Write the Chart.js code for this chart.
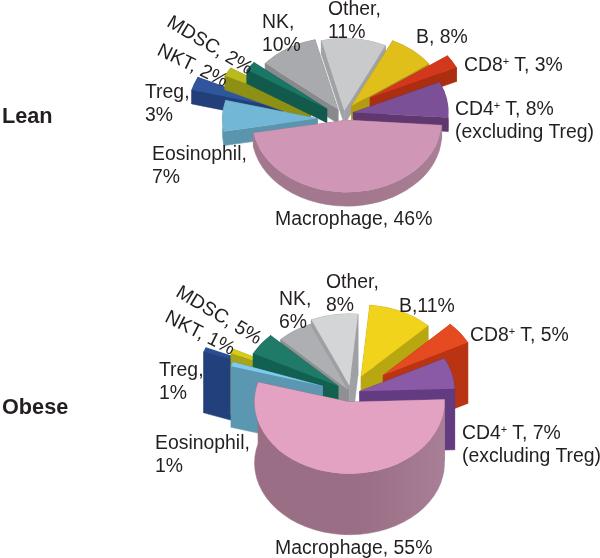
<!DOCTYPE html>
<html><head><meta charset="utf-8">
<style>
html,body{margin:0;padding:0;background:#fff;width:600px;height:558px;overflow:hidden}
canvas{position:absolute;left:0;top:0;pointer-events:none}
.t{position:absolute;font:19.4px/23px "Liberation Sans",Arial,sans-serif;color:#231f20;white-space:pre;transform-origin:0 0}
.h{font:bold 21.7px/24px "Liberation Sans",Arial,sans-serif;color:#231f20}
sup{font-size:11px;line-height:0;vertical-align:6px}
</style></head><body>
<canvas id="lean" width="600" height="558"></canvas>
<canvas id="obese" width="600" height="558"></canvas>
<script src="https://cdn.jsdelivr.net/npm/chart.js@4"></script>
<script>
const categories=["Macrophage","Eosinophil","Treg","NKT","MDSC","NK","Other","B","CD8","CD4"];
const leanValues=[46,7,3,2,2,10,11,8,3,8];
const obeseValues=[55,1,1,1,5,6,8,11,5,7];
const leanTop=["#cf96b5","#72b7d6","#2f559c","#b9bb1c","#1a7765","#a8aaad","#c8cacc","#e0bf1a","#d4381c","#7c5096"];
const leanSide=["#a3778d","#5b95ad","#233f7a","#8e9015","#125a4c","#88898c","#a0a2a5","#b39a12","#ab2e10","#60386f"];
const obeseTop=["#e3a2c1","#7fcbee","#2a4d94","#d4ce17","#1f7a68","#adafb2","#d3d5d7","#f0d31a","#e64a20","#8a5aa6"];
const obeseSide=["#9a6e85","#5c97b2","#22407c","#a9a41a","#126150","#8f9093","#9ea0a3","#b9a711","#b93412","#633b80"];
// explosion distance of each slice
const leanExplode=[7,28,62,36,20,10,6,14,34,9];
const obeseExplode=[12,30,62,36,16,5,10,24,40,9];
const drawOrder=[6,5,7,8,9,2,3,4,1,0];

function pie3d(cx,cy,sy,depth,sideColors,radius,tilt){
  return {id:"pie3d",beforeDatasetDraw(chart,args){
    const ctx=chart.ctx, arcs=args.meta.data;
    const dz=depth/sy;
    drawOrder.forEach(i=>{
      const arc=arcs[i], a=arc.startAngle, b=arc.endAngle;
      const off=(arc.options.offset||0)/4, mid=(a+b)/2-tilt*Math.PI/180;
      let side=sideColors[i];
      ctx.save();
      ctx.translate(cx+Math.cos(mid)*off,cy+Math.sin(mid)*off*sy);
      ctx.scale(1,sy);
      if(i===0){
        const g=ctx.createLinearGradient(-radius,0,radius,0);
        g.addColorStop(0,side);g.addColorStop(.55,side);g.addColorStop(1,"#a87f96");
        side=g;
      }
      ctx.fillStyle=side;ctx.strokeStyle=side;ctx.lineWidth=.6;
      // two flat cut faces
      [a,b].forEach(t=>{
        const x=Math.cos(t)*radius,y=Math.sin(t)*radius;
        ctx.beginPath();ctx.moveTo(0,0);ctx.lineTo(x,y);ctx.lineTo(x,y+dz);ctx.lineTo(0,dz);ctx.closePath();
        ctx.fill();ctx.stroke();
      });
      // curved wall
      ctx.beginPath();ctx.arc(0,0,radius,a,b);ctx.arc(0,dz,radius,b,a,true);ctx.closePath();
      ctx.fill();ctx.stroke();
      // top face
      ctx.beginPath();ctx.moveTo(0,0);ctx.arc(0,0,radius,a,b);ctx.closePath();
      ctx.fillStyle=arc.options.backgroundColor;ctx.fill();
      ctx.restore();
    });
    return false;
  }};
}
function makeChart(id,values,tops,sides,explode,rotation,radius,cx,cy,sy,depth,tilt){
  return new Chart(document.getElementById(id),{
    type:"pie",
    data:{labels:categories,datasets:[{data:values,backgroundColor:tops,borderWidth:0,offset:explode.map(v=>v*4),clip:false}]},
    options:{responsive:false,animation:false,rotation,radius,
      plugins:{legend:{display:false},tooltip:{enabled:false}},
      events:[]},
    plugins:[pie3d(cx,cy,sy,depth,sides,radius,tilt)]
  });
}
makeChart("lean",leanValues,leanTop,leanSide,leanExplode,94,95,345,115,0.758,14,12);
makeChart("obese",obeseValues,obeseTop,obeseSide,obeseExplode,88,95,351,393,0.755,61,0);

const sup=s=>s.replace(/(CD[48])\+/,"$1<sup>+</sup>");
const text=(name,v)=>({CD8:"CD8+ T",CD4:"CD4+ T"}[name]||name)+", "+v+"%";
const leanLabels=[
 {i:0,x:275,y:207},{i:1,x:152,y:142,br:1},{i:2,x:145,y:80,br:1},
 {i:3,x:164,y:38,rot:26},{i:4,x:175,y:10,rot:31},{i:5,x:262,y:10,br:1},
 {i:6,x:328,y:-3,br:1},{i:7,x:416,y:25},{i:8,x:464,y:53},{i:9,x:455,y:97,extra:"(excluding Treg)"}];
const obeseLabels=[
 {i:0,x:275,y:536},{i:1,x:155,y:431,br:1},{i:2,x:159,y:358,br:1},
 {i:3,x:172,y:305,rot:27},{i:4,x:184,y:280,rot:31},{i:5,x:279,y:287,br:1},
 {i:6,x:326,y:270,br:1},{i:7,x:399,y:294,tight:1},{i:8,x:470,y:323},{i:9,x:462,y:421,extra:"(excluding Treg)"}];
function addLabels(list,values){
  list.forEach(l=>{
    const d=document.createElement("div");d.className="t";
    let s=sup(text(categories[l.i],values[l.i]));
    if(l.br)s=s.replace(", ",",\n");
    if(l.tight)s=s.replace(", ",",");
    if(l.extra)s+="\n"+l.extra;
    d.innerHTML=s;
    d.style.left=l.x+"px";d.style.top=l.y+"px";
    if(l.rot)d.style.transform="rotate("+l.rot+"deg)";
    document.body.appendChild(d);
  });
}
addLabels(leanLabels,leanValues);
addLabels(obeseLabels,obeseValues);
[["Lean",2,104],["Obese",2,395]].forEach(([s,x,y])=>{
  const d=document.createElement("div");d.className="t h";d.textContent=s;
  d.style.left=x+"px";d.style.top=y+"px";document.body.appendChild(d);
});
</script>
</body></html>
